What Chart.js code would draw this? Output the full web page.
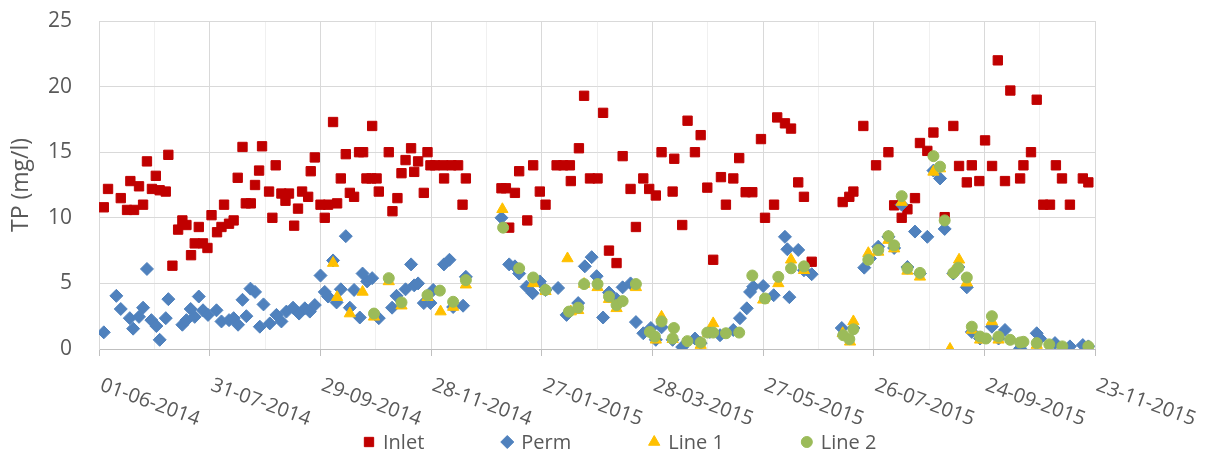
<!DOCTYPE html>
<html><head><meta charset="utf-8">
<script src="https://cdn.jsdelivr.net/npm/chart.js@4.4.1/dist/chart.umd.min.js"></script>
<style>html,body{margin:0;padding:0;background:#fff;}#wrap{width:1216px;height:457px;position:relative;}</style>
</head><body><div id="wrap"><canvas id="c" width="1216" height="457"></canvas></div>
<script>
// x values are days since 01-06-2014
const xTickDays = [0, 60, 120, 180, 240, 300, 360, 420, 480, 540];
const xTickLabels = ['01-06-2014','31-07-2014','29-09-2014','28-11-2014','27-01-2015','28-03-2015','27-05-2015','26-07-2015','24-09-2015','23-11-2015'];
const xGridDays = [0,30,60,90,120,150,180,210,240,270,300,330,360,390,420,450,480,510,540];
const yTicks = [0, 5, 10, 15, 20, 25];
const yTitle = 'TP (mg/l)';
const seriesNames = ['Inlet', 'Perm', 'Line 1', 'Line 2'];

const inletDays = [2.6,4.9,11.8,15.2,17,19,21.7,23.9,26,28.7,30.8,32.9,36.2,37.6,39.8,42.9,45.2,47.4,49.9,51.9,54.1,56.4,58.8,61,64,66.4,67.8,70.5,73,75.2,77.8,79.6,82.3,84.6,86.8,88.4,92.2,94,95.8,98.9,101.1,103,105.8,107.9,110.1,113.4,114.8,117,120.1,122.4,124.2,126.9,129.1,131.1,133.8,136,138.3,141,143.2,145,147.7,148.1,150.5,151.7,157.1,159.1,161.8,164,166.2,169.2,170.9,173,176.1,178.1,179.7,182.1,186.6,187.1,191.1,194.7,197.1,198.9,218.2,220.6,222.4,225.5,227.8,232.2,235.4,239,242.1,248.1,251.7,255.3,255.8,260.2,263,266.2,270.3,273.3,276.5,280.6,283.9,288.2,291.1,295.1,298.3,301.9,305,311,311.9,316.2,319.1,323.1,326.2,329.8,333,337.2,339.9,343.9,347.1,350.6,354.2,358.9,361.1,366,367.7,371.9,375.2,379.1,382.2,386.4,403.2,406.8,409,414.4,421.3,428,431.1,435.2,438.3,442.4,445.1,449.1,452.4,458.5,463.2,466.3,470.5,473.2,477.3,480.4,484.2,487.3,491.2,494.1,499.4,501.2,505.3,508.4,512,515.6,518.8,522.1,526.4,533.4,536.4];
const inletValues = [10.8,12.2,11.5,10.6,12.8,10.6,12.4,11.0,14.3,12.2,13.2,12.1,12.0,14.8,6.35,9.1,9.8,9.45,7.15,8.05,9.3,8.05,7.7,10.2,8.9,9.3,11.0,9.55,9.8,13.05,15.4,11.1,11.1,12.5,13.6,15.45,12.0,10.0,14.0,11.85,11.3,11.85,9.4,10.7,12.0,11.6,13.55,14.6,11.0,10.0,11.0,17.3,11.1,13.0,14.85,11.9,11.6,15.0,15.0,13.0,13.0,17.0,13.0,12.0,15.0,10.5,11.5,13.4,14.4,15.3,13.5,14.3,11.9,15.0,14.0,14.0,14.0,13.0,14.0,14.0,11.0,13.0,12.25,12.25,9.25,11.9,13.55,9.8,14.0,12.0,11.0,14.0,14.0,14.0,12.8,15.3,19.3,13.0,13.0,18.0,7.5,6.55,14.7,12.2,9.3,13.0,12.2,11.7,15.0,12.0,14.5,9.45,17.4,15.0,16.3,12.3,6.8,13.1,11.0,13.0,14.55,11.95,11.95,16.0,10.0,11.0,17.65,17.2,16.8,12.7,11.6,6.65,11.2,11.6,12.0,17.0,14.0,15.0,10.95,10.0,10.65,11.5,15.7,15.1,16.5,10.05,17.0,13.95,12.7,14.0,12.8,15.9,13.95,22.0,12.8,19.7,13.0,14.0,15.0,19.0,11.0,11.0,14.0,13.0,11.0,13.0,12.7];

const permDays = [2.6,9.4,11.8,16.7,18.5,21.7,23.9,26,28.4,31.1,32.9,36.2,37.6,45.2,47.4,49.7,51.9,54.1,56.4,59.1,63.7,66.4,70.5,73,75.4,77.8,79.9,82.1,84.6,87.2,89.2,92.6,96.2,98.9,101.6,105.2,108.5,111.6,114.3,117,120.1,122.4,124.2,126.9,128.8,131.1,133.8,136,138.3,141.4,142.9,145.4,148.1,151.7,158.9,161.3,166.2,169.2,170.9,173,176.1,179.7,181.2,187,190,192,197.4,198.9,218.2,222.4,225.5,227.8,231.8,235.1,239,242.1,248.9,253.5,259.8,263.4,267.1,269.8,273.3,276.5,280.6,283.9,288.2,291.1,295.1,299.2,301.9,305,311,316.2,323.1,326.2,331.2,336.7,343.9,347.5,351.2,353,354.7,360.1,365.8,371.9,373.2,374.3,379.1,382.2,386.4,402.7,409,414.9,418,422.5,428,431.1,435.2,438.3,442.4,445.1,449.1,452.4,456,458.5,463.2,465.9,470.5,473.2,477.7,484.1,487.7,491.2,499.4,508.4,510.2,518.3,526.4,533.4,536.4];
const permValues = [1.27,4.05,3.05,2.35,1.55,2.45,3.15,6.1,2.2,1.75,0.7,2.35,3.8,1.85,2.2,3.05,2.45,4.0,2.95,2.6,2.95,2.1,2.2,2.35,1.85,3.75,2.5,4.6,4.35,1.7,3.4,1.95,2.6,2.1,2.85,3.15,2.7,3.1,2.85,3.35,5.6,4.35,4.0,6.75,3.55,4.55,8.6,3.15,4.5,2.4,5.75,5.15,5.4,2.35,3.15,4.05,4.55,6.45,4.85,5.0,3.5,3.5,4.5,6.45,6.8,3.2,3.3,5.5,10.0,6.45,6.3,5.75,4.75,4.25,5.15,4.5,4.65,2.6,3.5,6.3,7.0,5.55,2.4,4.3,3.8,4.7,5.0,2.05,1.2,1.6,0.7,1.65,0.7,0.15,0.8,0.45,1.3,1.05,1.45,2.35,3.1,4.35,4.75,4.8,4.1,8.55,7.6,3.95,7.55,6.0,5.7,1.6,1.6,6.2,6.9,7.8,8.55,7.7,11.0,6.25,8.95,5.75,8.55,13.6,13.0,9.15,5.75,6.25,4.7,1.3,0.8,1.7,0.8,1.45,0.05,1.2,0.8,0.45,0.2,0.3,0.2];

const line1Days = [126.9,129.1,136,142.9,149.1,157.1,164,178.1,185.2,192,198.9,218.7,235.4,242.1,254,255.8,259.8,263,270.3,276.5,280.6,291.1,301.9,305,311,326.2,330.3,333,360.1,368.3,375.2,382.2,403.2,407.2,409,417.1,422.5,428,431.1,435.2,438.3,445.1,452.4,456,461.4,463.2,466.3,470.5,473.2,477.7,484.1,487.7,508.4,522.3,536.4];
const line1Values = [6.55,3.95,2.7,4.35,2.45,5.15,3.3,3.95,2.85,3.2,4.9,10.65,5.0,4.4,6.9,2.85,2.95,4.95,4.7,3.8,3.1,4.7,0.7,2.45,0.75,0.3,1.2,1.95,3.75,5.0,6.8,6.0,1.2,0.55,2.1,7.3,7.4,8.3,7.65,11.2,5.95,5.5,13.5,13.75,0.0,5.9,6.8,5.05,1.45,0.7,2.1,0.7,0.3,0.1,0.1];

const line2Days = [149.1,157.1,164,178.1,184.8,192,198.9,219.1,227.8,235.4,242.1,254.8,259.8,263,270.3,276.5,280.6,283.9,291.1,298.7,301.4,305,311,311.7,319,326.2,329.8,333,339.9,347.1,354.2,361.1,368.3,375.2,382.2,403.5,406.8,409,417.1,422.5,428,431.1,435.2,438.3,445.1,452.4,456,458.5,463.2,465.9,470.5,473.2,477.7,480.9,484.1,487.7,494,499.4,501.2,508.4,515.2,522.3,536.4];
const line2Values = [2.7,5.4,3.55,4.1,4.45,3.6,5.25,9.25,6.15,5.45,4.5,2.85,3.15,4.95,4.95,4.0,3.35,3.65,4.95,1.3,0.95,2.1,0.8,1.6,0.6,0.5,1.25,1.25,1.2,1.25,5.6,3.85,5.5,6.15,6.3,1.05,0.75,1.5,6.8,7.55,8.6,7.9,11.65,6.15,5.8,14.7,13.9,9.8,5.8,6.2,5.45,1.7,0.95,0.8,2.5,0.95,0.7,0.5,0.55,0.45,0.35,0.2,0.2];

const pts = (xs, ys) => xs.map((x, i) => ({x: x, y: ys[i]}));
const FONT = '"Open Sans", "Liberation Sans", sans-serif';
const TXT = '#595959';

const datasets = [
  {label: seriesNames[0], data: pts(inletDays, inletValues), pointStyle: 'rect', pointRadius: 6.6, backgroundColor: '#C00000', borderColor: '#C00000', borderWidth: 1, order: 3},
  {label: seriesNames[1], data: pts(permDays, permValues), pointStyle: 'rectRot', pointRadius: 6.5, backgroundColor: '#4F81BD', borderColor: '#4F81BD', borderWidth: 1, order: 2},
  {label: seriesNames[2], data: pts(line1Days, line1Values), pointStyle: 'triangle', pointRadius: 6.5, backgroundColor: '#FFC000', borderColor: '#FFC000', borderWidth: 1, order: 1},
  {label: seriesNames[3], data: pts(line2Days, line2Values), pointStyle: 'circle', pointRadius: 5.5, backgroundColor: '#9BBB59', borderColor: '#9BBB59', borderWidth: 1, order: 0}
];

const customDraw = {
  id: 'customDraw',
  afterDraw(chart) {
    const ctx = chart.ctx;
    const xs = chart.scales.x;
    ctx.save();
    ctx.font = '20px ' + FONT;
    ctx.fillStyle = TXT;
    ctx.textAlign = 'left';
    ctx.textBaseline = 'alphabetic';
    xTickDays.forEach((d, i) => {
      const px = xs.getPixelForValue(d);
      ctx.save();
      ctx.translate(px, xs.top + 41);
      ctx.rotate(20 * Math.PI / 180);
      ctx.fillText(xTickLabels[i], 0, 0);
      ctx.restore();
    });
    ctx.restore();
    ctx.save();
    ctx.font = '20px ' + FONT;
    ctx.textBaseline = 'middle';
    ctx.textAlign = 'left';
    let x = 369;
    const y = 442;
    chart.data.datasets.forEach((ds) => {
      ctx.fillStyle = ds.backgroundColor;
      ctx.strokeStyle = ds.borderColor;
      ctx.lineWidth = 1;
      Chart.helpers.drawPoint(ctx, {pointStyle: ds.pointStyle, radius: ds.pointRadius, rotation: 0, borderWidth: 1}, x, y);
      ctx.fillStyle = TXT;
      ctx.fillText(ds.label, x + 14, y + 1);
      const w = ctx.measureText(ds.label).width;
      x = x + 14 + w + 83;
    });
    ctx.restore();
  }
};

new Chart(document.getElementById('c'), {
  type: 'scatter',
  data: {datasets: datasets},
  options: {
    responsive: false,
    animation: false,
    devicePixelRatio: 1,
    layout: {padding: {left: 0, right: 121, top: 21, bottom: 0}},
    plugins: {legend: {display: false}, tooltip: {enabled: false}},
    scales: {
      x: {
        type: 'linear', min: 0, max: 540,
        afterBuildTicks: (s) => { s.ticks = xGridDays.map(v => ({value: v})); },
        afterFit: (s) => { s.height = 108; },
        ticks: {display: false},
        grid: {
          color: (c) => (c.tick && c.tick.value % 60 === 0) ? '#d9d9d9' : '#f0f0f0',
          tickColor: (c) => (c.tick && c.tick.value % 60 === 0) ? '#bfbfbf' : 'rgba(0,0,0,0)',
          tickLength: 7, drawTicks: true, lineWidth: 1
        },
        border: {display: true, color: '#bfbfbf'}
      },
      y: {
        type: 'linear', min: 0, max: 25,
        afterBuildTicks: (s) => { s.ticks = yTicks.map(v => ({value: v})); },
        afterFit: (s) => { s.width = 99; },
        ticks: {color: TXT, font: {family: FONT, size: 21}, padding: 4},
        grid: {color: '#d9d9d9', drawTicks: true, tickLength: 23, tickColor: 'rgba(0,0,0,0)', lineWidth: 1},
        border: {display: true, color: '#d9d9d9'},
        title: {display: true, text: yTitle, color: TXT, font: {family: FONT, size: 23}, padding: {top: 8, bottom: 0}}
      }
    }
  },
  plugins: [customDraw]
});
</script></body></html>
